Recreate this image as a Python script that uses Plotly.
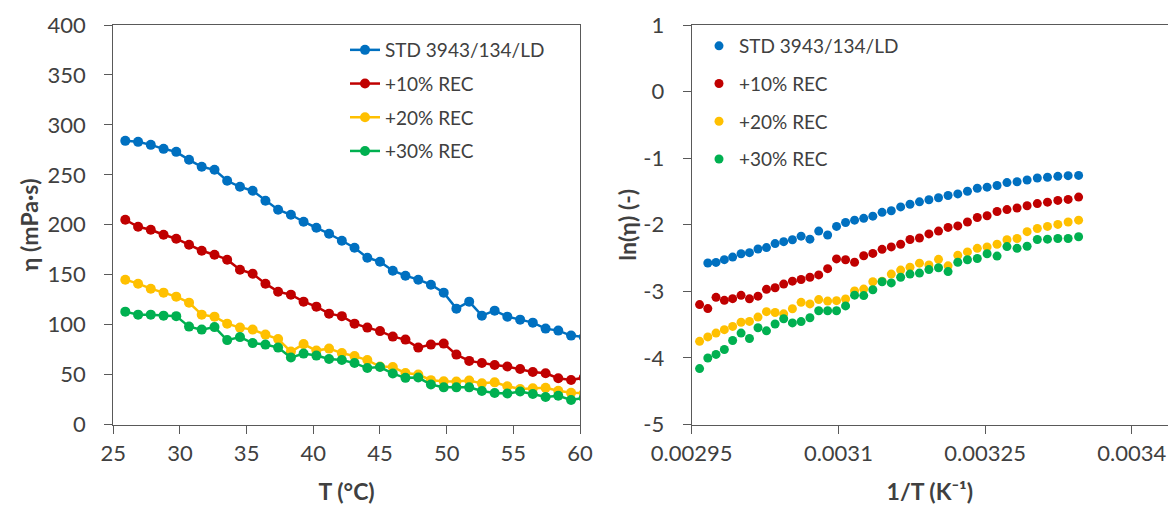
import math
import plotly.graph_objects as go

# Temperature (deg C) of each measurement
T_C = [25.9, 26.86, 27.81, 28.77, 29.72, 30.68, 31.63, 32.59, 33.54, 34.5,
       35.45, 36.41, 37.36, 38.32, 39.27, 40.23, 41.18, 42.14, 43.09, 44.05,
       45.0, 45.96, 46.91, 47.87, 48.82, 49.78, 50.73, 51.69, 52.64, 53.6,
       54.55, 55.51, 56.46, 57.42, 58.37, 59.33, 60.28, 61.24, 62.19, 63.15,
       64.1, 65.06]

# Viscosity (mPa.s)
eta_std = [284, 283, 280, 276, 273, 265, 258, 255, 244, 238,
           234, 224, 215, 210, 203, 197, 191, 184, 177, 167,
           163, 154, 149, 145, 140, 132, 116, 123, 109, 114,
           108, 105, 102, 96, 94, 89, 87.6, 83.3, 80.1, 76.9,
           76.2, None]
eta_10 = [205, 198, 195, 190, 186, 180, 174, 170, 165, 155,
          151, 141, 133, 130, 123, 118, 111, 108.5, 101, 97,
          93.5, 88, 85, 77, 80, 81, 70, 63.7, 61.5, 59.5,
          58, 55.5, 52.5, 51.3, 46.3, 44.5, 46.9, 44.6, 43.5, 45.5,
          38.4, 40.8]
eta_20 = [145, 141, 136, 132, 128, 122, 110, 108, 101, 97,
          95, 90, 85.5, 73, 80.5, 74, 76, 71.5, 68.5, 64.5,
          58, 57.5, 51.5, 50, 44.4, 43.3, 43, 44, 41.2, 42.2,
          38.3, 35.5, 36.2, 36.7, 33.8, 31.7, 31.3, 29.4, 28.0, 26.6,
          25.1, 23.5]
eta_30 = [113, 110, 110, 109, 108.5, 98, 95, 97.5, 84.5, 87.5,
          81.5, 80, 77, 67, 71, 69, 65.5, 64.5, 61.5, 56.5,
          57.5, 51, 46.7, 47, 40, 37.2, 37.2, 37.2, 33.5, 31.6,
          31, 33, 30.5, 27.5, 28.8, 24.5, 26.6, 23.8, 20.8, 19.3,
          18.3, 15.6]

series_names = ["STD 3943/134/LD", "+10% REC", "+20% REC", "+30% REC"]
series_vals = [eta_std, eta_10, eta_20, eta_30]
colors = ["#0070C0", "#C00000", "#FFC000", "#00B050"]

# tick labels
x1_ticks = [25, 30, 35, 40, 45, 50, 55, 60]
y1_ticks = [0, 50, 100, 150, 200, 250, 300, 350, 400]
x2_ticks = [0.00295, 0.0031, 0.00325, 0.0034]
x2_text = ["0.00295", "0.0031", "0.00325", "0.0034"]
y2_ticks = [-5, -4, -3, -2, -1, 0, 1]
y2_text = ["-5", "-4", "-3", "-2", "-1", "0", "1"]

inv_T = [1.0 / (t + 273.0) for t in T_C]

FONT = "Lato"
TXT = "#404040"
fig = go.Figure()

for i, (name, vals, col) in enumerate(zip(series_names, series_vals, colors)):
    fig.add_trace(go.Scatter(
        x=T_C, y=vals, name=name, mode="lines+markers",
        line=dict(color=col, width=2.5),
        marker=dict(color=col, size=10),
        xaxis="x", yaxis="y", legend="legend", legendgroup="a%d" % i,
        connectgaps=False,
    ))
for i, (name, vals, col) in enumerate(zip(series_names, series_vals, colors)):
    ln_vals = [math.log(v / 1000.0) if v is not None else None for v in vals]
    fig.add_trace(go.Scatter(
        x=inv_T, y=ln_vals, name=name, mode="markers",
        marker=dict(color=col, size=9),
        xaxis="x2", yaxis="y2", legend="legend2", legendgroup="b%d" % i,
    ))

W, H = 1168, 510
x1a, x1b = 113.3 / W, 580 / W
x2a, x2b = 691.7 / W, 1.0
ya, yb = 1 - 424.5 / H, 1 - 25 / H

axis_common = dict(showgrid=False, zeroline=False, showline=True,
                   linecolor="#595959", linewidth=1.3, ticks="outside",
                   ticklen=8, tickcolor="#595959", tickwidth=1.3,
                   tickfont=dict(family=FONT, size=22, color=TXT),
                   mirror=True, automargin=False)

def title(t):
    return dict(text="<b>%s</b>" % t, font=dict(family=FONT, size=23, color=TXT))

fig.update_layout(
    width=W, height=H,
    margin=dict(l=0, r=0, t=0, b=0),
    paper_bgcolor="white", plot_bgcolor="white",
    font=dict(family=FONT, color=TXT),
    xaxis=dict(axis_common, domain=[x1a, x1b], range=[25, 60],
               tickvals=x1_ticks, anchor="y", ticklabelstandoff=1,
               title=dict(title("T (°C)"), standoff=18)),
    yaxis=dict(axis_common, domain=[ya, yb], range=[0, 400],
               tickvals=y1_ticks, anchor="x", ticklabelstandoff=14,
               title=dict(title("η (mPa·s)"), standoff=2)),
    xaxis2=dict(axis_common, domain=[x2a, x2b], range=[0.00295, 0.003437],
                tickvals=x2_ticks, ticktext=x2_text,
                anchor="y2", ticklabelstandoff=1,
                title=dict(title("1/T (K⁻¹)"), standoff=18)),
    yaxis2=dict(axis_common, domain=[ya, yb], range=[-5, 1],
                tickvals=y2_ticks, ticktext=y2_text,
                anchor="x2", ticklabelstandoff=14, mirror=False,
                title=dict(title("ln(η) (-)"), standoff=0)),
    legend=dict(x=345 / W, y=1 - 31 / H, xanchor="left", yanchor="top",
                bgcolor="rgba(255,255,255,0)", tracegroupgap=6,
                font=dict(family=FONT, size=19, color=TXT)),
    legend2=dict(x=699 / W, y=1 - 27 / H, xanchor="left", yanchor="top",
                 bgcolor="rgba(255,255,255,0)", tracegroupgap=10,
                 itemwidth=30,
                 font=dict(family=FONT, size=19, color=TXT)),
    showlegend=True,
)

fig.write_html("out.html")
